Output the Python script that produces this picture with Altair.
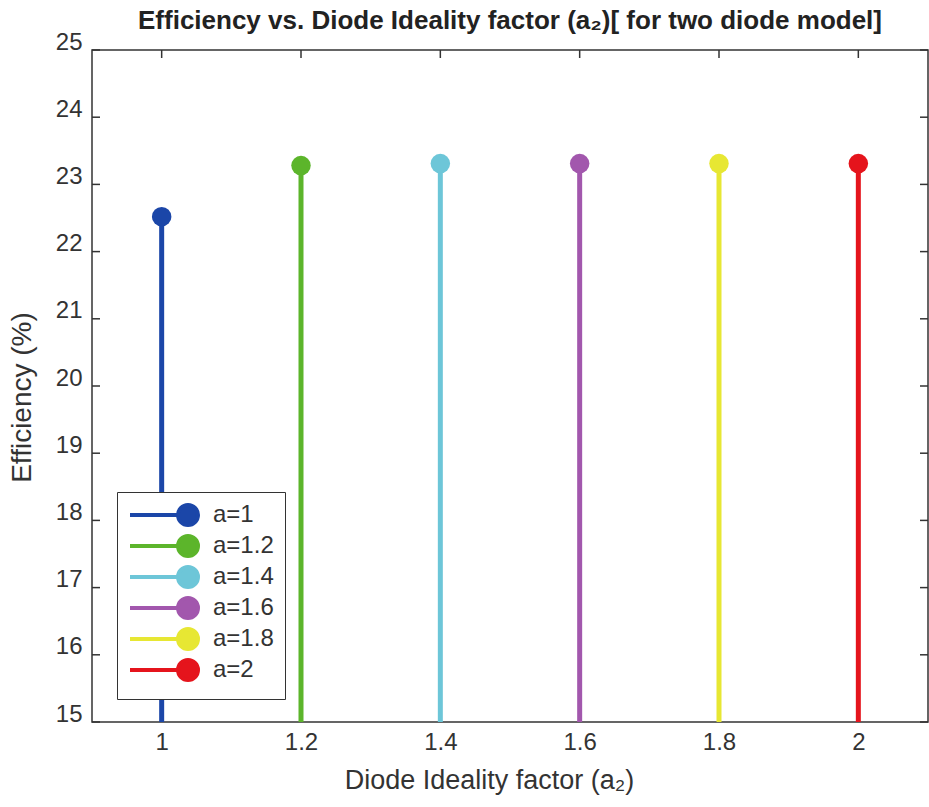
import altair as alt
import pandas as pd

labels = ["a=1", "a=1.2", "a=1.4", "a=1.6", "a=1.8", "a=2"]
a_values = [1.0, 1.2, 1.4, 1.6, 1.8, 2.0]
efficiency = [22.52, 23.28, 23.31, 23.31, 23.31, 23.31]
colors = ["#1b46a8", "#5cb52b", "#6dc6d8", "#a257ad", "#e7e733", "#e5141c"]
x_ticks = [1.0, 1.2, 1.4, 1.6, 1.8, 2.0]
y_ticks = [15, 16, 17, 18, 19, 20, 21, 22, 23, 24, 25]

W, H = 836, 672
FONT = "Liberation Sans"

df = pd.DataFrame({"a": a_values, "eff": efficiency, "label": labels, "base": [15] * 6})
xt = pd.DataFrame({"x": x_ticks})
yt = pd.DataFrame({"y": y_ticks})

xscale = alt.Scale(domain=[0.9, 2.1], nice=False, zero=False)
yscale = alt.Scale(domain=[15, 25], nice=False, zero=False)

# line to the left of a circle (unit = 10 px at symbolSize 400)
legend_path = "M-5.8,0L0,0M-1,0A1,1,0,1,1,1,0A1,1,0,1,1,-1,0Z"

color = alt.Color(
    "label:N",
    scale=alt.Scale(domain=labels, range=colors),
    sort=labels,
    legend=alt.Legend(
        title=None,
        orient="none",
        legendX=25,
        legendY=442,
        strokeColor="#333333",
        fillColor="white",
        padding=11,
        labelFontSize=24,
        labelFont=FONT,
        labelColor="#333333",
        symbolType=legend_path,
        symbolSize=400,
        symbolStrokeWidth=4,
        symbolOffset=48,
        rowPadding=-5,
        labelOffset=13,
    ),
)

xaxis = alt.Axis(
    values=x_ticks, ticks=False, domain=False, grid=False,
    labelFontSize=24, labelFont=FONT, labelColor="#333333", labelPadding=8,
    title="Diode Ideality factor (a₂)", titleFontSize=27, titleFont=FONT,
    titleFontWeight="normal", titleColor="#333333", titlePadding=13,
    titleX=397,
    labelExpr="datum.value == 1 ? '1' : datum.value == 2 ? '2' : format(datum.value, '.1f')",
)
yaxis = alt.Axis(
    values=y_ticks, ticks=False, domain=False, grid=False, format="d",
    labelFontSize=24, labelFont=FONT, labelColor="#333333", labelPadding=10,
    labelOffset=-8,
    title="Efficiency (%)", titleFontSize=28, titleFont=FONT,
    titleFontWeight="normal", titleColor="#333333", titlePadding=19,
    titleY=347,
)

stems = alt.Chart(df).mark_rule(strokeWidth=5).encode(
    x=alt.X("a:Q", scale=xscale, axis=xaxis),
    y=alt.Y("base:Q", scale=yscale, axis=yaxis),
    y2="eff:Q",
    color=color,
)
heads = alt.Chart(df).mark_circle(size=380, opacity=1).encode(
    x="a:Q", y="eff:Q", color=color,
)

tick_style = dict(color="#333333", strokeWidth=1.5)
left_ticks = alt.Chart(yt).mark_rule(**tick_style).encode(
    y="y:Q", x=alt.value(0), x2=alt.value(8))
right_ticks = alt.Chart(yt).mark_rule(**tick_style).encode(
    y="y:Q", x=alt.value(W - 8), x2=alt.value(W))
top_ticks = alt.Chart(xt).mark_rule(**tick_style).encode(
    x="x:Q", y=alt.value(0), y2=alt.value(8))
bottom_ticks = alt.Chart(xt).mark_rule(**tick_style).encode(
    x="x:Q", y=alt.value(H - 8), y2=alt.value(H))

chart = alt.layer(
    left_ticks, right_ticks, top_ticks, bottom_ticks, stems, heads
).properties(
    width=W,
    height=H,
    title=alt.Title(
        "Efficiency vs. Diode Ideality factor (a₂)[ for two diode model]",
        fontSize=26, font=FONT, fontWeight="bold", color="#222222",
        anchor="middle", offset=-4,
    ),
    autosize=alt.AutoSizeParams(type="none"),
    padding={"left": 92, "top": 50, "right": 1, "bottom": 85},
    background="white",
).configure_view(
    stroke="#333333", strokeWidth=1.5,
)

chart.save("out.html", embed_options={"renderer": "svg", "actions": False})
